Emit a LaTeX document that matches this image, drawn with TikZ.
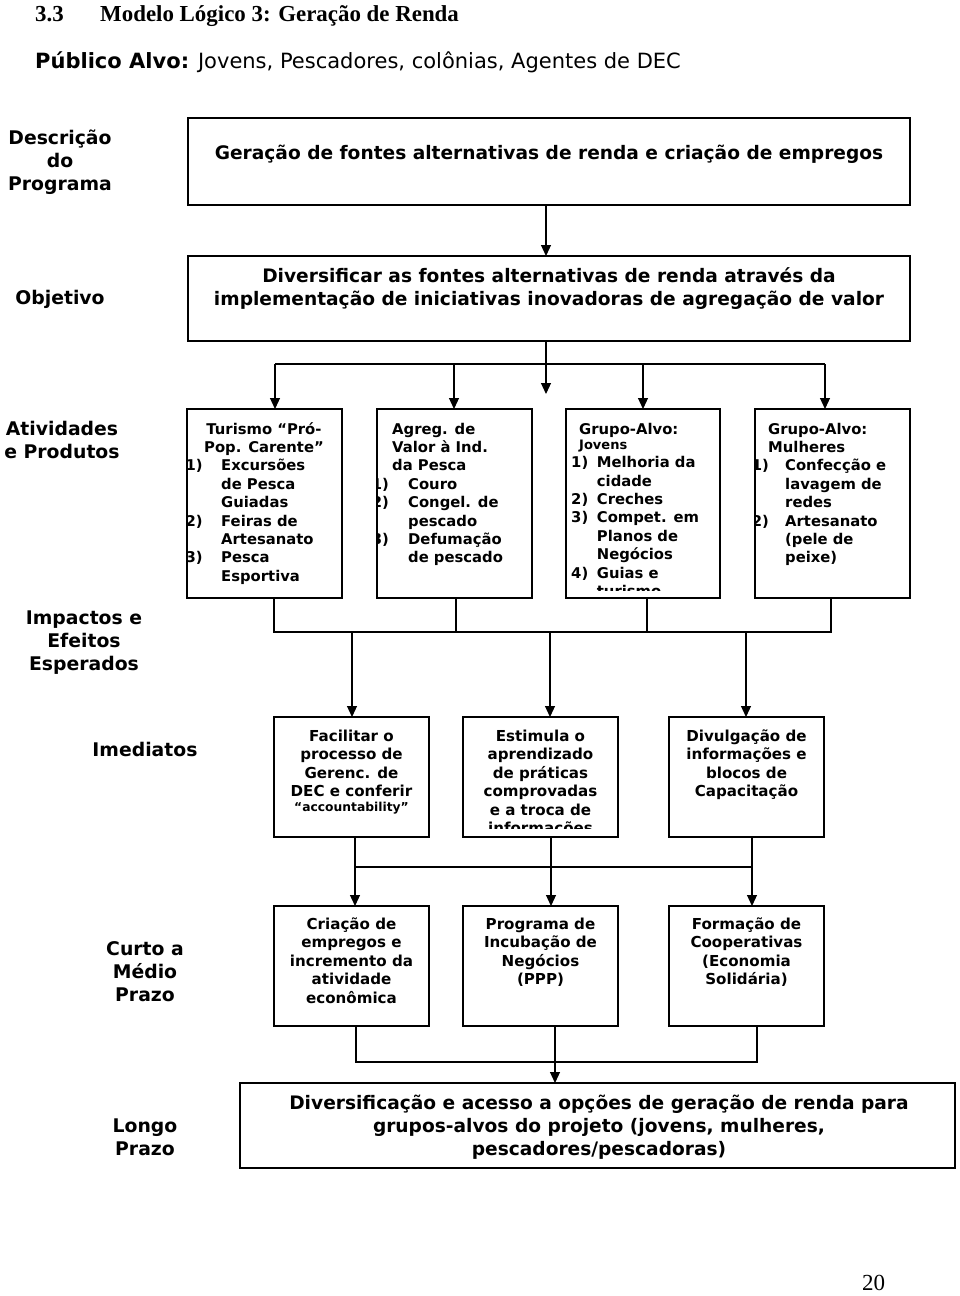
\documentclass[tikz,border=0pt]{standalone}
\usepackage{fontspec}
\setmainfont{DejaVu Sans}
\newfontfamily\tms{Liberation Serif}
\usetikzlibrary{arrows.meta}
\newlength\nw
\newcommand\ctab[1]{\begin{tabular}[t]{@{}c@{}}#1\end{tabular}}
\newcommand\ltab[1]{\begin{tabular}[t]{@{}l@{}}#1\end{tabular}}
\newcommand\numb[1]{\makebox[\nw][l]{#1}}
\newcommand\cont{\hspace*{\nw}}
\begin{document}
\begin{tikzpicture}[x=1pt,y=-1pt,
  box/.style={draw, line width=1.6pt, inner sep=0pt, outer sep=0pt},
  conn/.style={line width=1.2pt},
  arr/.style={conn, -{Triangle[length=11pt,width=10pt]}},
  lbl/.style={inner sep=0pt, font=\fontsize{18.8}{23}\selectfont\bfseries, anchor=base},
  big/.style={inner sep=0pt, font=\fontsize{18.6}{23}\selectfont\bfseries, anchor=base},
  vtxt/.style={inner sep=0pt, font=\fontsize{14.8}{18.4}\selectfont\bfseries},
  ttxt/.style={inner sep=0pt, font=\fontsize{15.1}{18.4}\selectfont\bfseries, anchor=base},
]
\fill[white] (0,0) rectangle (960,1296);
\useasboundingbox (0,0) rectangle (960,1296);

% ---------- header ----------
\node[anchor=base west, inner sep=0pt, font=\tms\fontsize{22.9}{27}\selectfont\bfseries] (t33) at (35,21) {3.3};
\node[anchor=base west, inner sep=0pt, font=\tms\fontsize{22.9}{27}\selectfont\bfseries] (ttl) at (100,21) {Modelo Lógico 3: Geração de Renda};
\node[anchor=base west, inner sep=0pt, font=\fontsize{21}{25}\selectfont] (pub) at (35,68) {\textbf{Público Alvo:} Jovens, Pescadores, colônias, Agentes de DEC};

% ---------- row labels ----------
\node[lbl] (ldesc) at (60,144) {\ctab{Descrição\\do\\Programa}};
\node[lbl] (lobj) at (60,304) {Objetivo};
\node[lbl] (lativ) at (62,435) {\ctab{Atividades\\e Produtos}};
\node[lbl] (limp) at (84,624) {\ctab{Impactos e\\Efeitos\\Esperados}};
\node[lbl] (limed) at (145,756) {Imediatos};
\node[lbl] (lcurto) at (145,955) {\ctab{Curto a\\Médio\\Prazo}};
\node[lbl] (llongo) at (145,1132) {\ctab{Longo\\Prazo}};

% ---------- boxes ----------
\node[box, minimum width=722pt, minimum height=87pt] (b1) at (549,161.5) {};
\node[box, minimum width=722pt, minimum height=85pt] (b2) at (549,298.5) {};
\node[box, minimum width=155pt, minimum height=189pt] (a1) at (264.5,503.5) {};
\node[box, minimum width=155pt, minimum height=189pt] (a2) at (454.5,503.5) {};
\node[box, minimum width=154pt, minimum height=189pt] (a3) at (643,503.5) {};
\node[box, minimum width=155pt, minimum height=189pt] (a4) at (832.5,503.5) {};
\node[box, minimum width=155pt, minimum height=120pt] (i1) at (351.5,777) {};
\node[box, minimum width=155pt, minimum height=120pt] (i2) at (540.5,777) {};
\node[box, minimum width=155pt, minimum height=120pt] (i3) at (746.5,777) {};
\node[box, minimum width=155pt, minimum height=120pt] (c1) at (351.5,966) {};
\node[box, minimum width=155pt, minimum height=120pt] (c2) at (540.5,966) {};
\node[box, minimum width=155pt, minimum height=120pt] (c3) at (746.5,966) {};
\node[box, minimum width=715pt, minimum height=85pt] (lp) at (597.5,1125.5) {};

% ---------- box texts ----------
\node[big] (tb1) at (549,159) {Geração de fontes alternativas de renda e criação de empregos};
\node[big] (tb2) at (549,282) {\ctab{Diversificar as fontes alternativas de renda através da\\implementação de iniciativas inovadoras de agregação de valor}};
\node[big] (tlp) at (599,1109.5) {\ctab{Diversificação e acesso a opções de geração de renda para\\grupos-alvos do projeto (jovens, mulheres,\\pescadores/pescadoras)}};

\begin{scope}
\clip (a1.north west) rectangle (a1.south east);
\node[vtxt, anchor=base] (a1h) at (264,434) {\ctab{Turismo “Pró-\\Pop. Carente”}};
\node[vtxt, anchor=base west] (a1l) at (185.4,470.8) {\setlength\nw{35.6pt}\ltab{\numb{1)}Excursões\\\cont de Pesca\\\cont Guiadas\\\numb{2)}Feiras de\\\cont Artesanato\\\numb{3)}Pesca\\\cont Esportiva}};
\end{scope}

\begin{scope}
\clip (a2.north west) rectangle (a2.south east);
\node[vtxt, anchor=base west] (a2h) at (392,434) {\ltab{Agreg. de\\Valor à Ind.\\da Pesca}};
\node[vtxt, anchor=base west] (a2l) at (371.7,489.2) {\setlength\nw{36.3pt}\ltab{\numb{1)}Couro\\\numb{2)}Congel. de\\\cont pescado\\\numb{3)}Defumação\\\cont de pescado}};
\end{scope}

\begin{scope}
\clip (a3.north west) rectangle ([yshift=7.5pt]a3.south east);
\node[vtxt, anchor=base west] (a3h) at (579,434) {Grupo-Alvo:};
\node[inner sep=0pt, anchor=base west, font=\fontsize{13}{15}\selectfont\bfseries] (a3j) at (579,449) {Jovens};
\node[vtxt, anchor=base west] (a3l) at (571,467.7) {\setlength\nw{25.7pt}\ltab{\numb{1)}Melhoria da\\\cont cidade\\\numb{2)}Creches\\\numb{3)}Compet. em\\\cont Planos de\\\cont Negócios\\\numb{4)}Guias e\\\cont turismo}};
\end{scope}

\begin{scope}
\clip (a4.north west) rectangle (a4.south east);
\node[vtxt, anchor=base west] (a4h) at (768,434) {\ltab{Grupo-Alvo:\\Mulheres}};
\node[vtxt, anchor=base west] (a4l) at (751.7,470.8) {\setlength\nw{33.3pt}\ltab{\numb{1)}Confecção e\\\cont lavagem de\\\cont redes\\\numb{2)}Artesanato\\\cont (pele de\\\cont peixe)}};
\end{scope}

\node[ttxt] (ti1) at (351.5,741.5) {\ctab{Facilitar o\\processo de\\Gerenc. de\\DEC e conferir}};
\node[inner sep=0pt, anchor=base, font=\fontsize{12.3}{15}\selectfont\bfseries] (ti1b) at (351.5,811) {“accountability”};
\begin{scope}
\clip (i2.north west) rectangle ([yshift=8.5pt]i2.south east);
\node[ttxt] (ti2) at (540.5,741.5) {\ctab{Estimula o\\aprendizado\\de práticas\\comprovadas\\e a troca de\\informações}};
\end{scope}
\node[ttxt] (ti3) at (746.5,741.5) {\ctab{Divulgação de\\informações e\\blocos de\\Capacitação}};
\node[ttxt] (tc1) at (351.5,929.5) {\ctab{Criação de\\empregos e\\incremento da\\atividade\\econômica}};
\node[ttxt] (tc2) at (540.5,929.5) {\ctab{Programa de\\Incubação de\\Negócios\\(PPP)}};
\node[ttxt] (tc3) at (746.5,929.5) {\ctab{Formação de\\Cooperativas\\(Economia\\Solidária)}};

% ---------- connectors ----------
\draw[arr] ([xshift=-3pt]b1.south) -- ([xshift=-3pt]b2.north);
\draw[arr] ([xshift=-3pt]b2.south) -- ++(0,53);
\coordinate (h1) at (275,364);
\coordinate (h2) at (454,364);
\coordinate (h3) at (643,364);
\coordinate (h4) at (825,364);
\draw[conn] (h1) -- (h4);
\draw[arr] (h1) -- (h1 |- a1.north);
\draw[arr] (h2) -- (h2 |- a2.north);
\draw[arr] (h3) -- (h3 |- a3.north);
\draw[arr] (h4) -- (h4 |- a4.north);

\coordinate (j1) at (274,632);
\coordinate (j2) at (456,632);
\coordinate (j3) at (647,632);
\coordinate (j4) at (831,632);
\draw[conn] (j1 |- a1.south) -- (j1) -- (j4) -- (j4 |- a4.south);
\draw[conn] (j2 |- a2.south) -- (j2);
\draw[conn] (j3 |- a3.south) -- (j3);
\coordinate (k1) at (352,632);
\coordinate (k2) at (550,632);
\coordinate (k3) at (746,632);
\draw[arr] (k1) -- (k1 |- i1.north);
\draw[arr] (k2) -- (k2 |- i2.north);
\draw[arr] (k3) -- (k3 |- i3.north);

\coordinate (m1) at (355,867);
\coordinate (m2) at (551,867);
\coordinate (m3) at (752,867);
\draw[conn] (m1) -- (m3);
\draw[arr] (m1 |- i1.south) -- (m1 |- c1.north);
\draw[arr] (m2 |- i2.south) -- (m2 |- c2.north);
\draw[arr] (m3 |- i3.south) -- (m3 |- c3.north);

\coordinate (n1) at (356,1062);
\coordinate (n2) at (555,1062);
\coordinate (n3) at (757,1062);
\draw[conn] (n1 |- c1.south) -- (n1) -- (n3) -- (n3 |- c3.south);
\draw[arr] (n2 |- c2.south) -- (n2 |- lp.north);

% ---------- page number ----------
\node[anchor=base west, inner sep=0pt, font=\tms\fontsize{23}{27}\selectfont] (pg) at (862,1290) {20};
\end{tikzpicture}
\end{document}
